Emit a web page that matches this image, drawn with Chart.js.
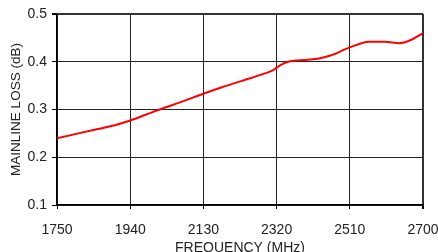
<!DOCTYPE html>
<html>
<head>
<meta charset="utf-8">
<script src="https://cdn.jsdelivr.net/npm/chart.js@4"></script>
<style>
  html, body { margin: 0; padding: 0; background: #fff; }
  #wrap { width: 438px; height: 252px; }
</style>
</head>
<body>
<div id="wrap"><canvas id="lossChart" width="438" height="252"></canvas></div>
<script>
// Mainline loss vs frequency
const freqMHz = [1750, 1800, 1850, 1900, 1940, 1980, 2020, 2080, 2130, 2180, 2230, 2280, 2310, 2330, 2350, 2400, 2430, 2460, 2510, 2560, 2600, 2640, 2670, 2700];
const lossDb  = [0.240, 0.249, 0.258, 0.267, 0.277, 0.289, 0.301, 0.318, 0.333, 0.347, 0.360, 0.373, 0.382, 0.393, 0.400, 0.404, 0.407, 0.413, 0.430, 0.442, 0.442, 0.439, 0.446, 0.460];

const xTicks = [1750, 1940, 2130, 2320, 2510, 2700];
const yTicks = [0.1, 0.2, 0.3, 0.4, 0.5];

const FONT = "'Liberation Sans', Arial, sans-serif";

const points = freqMHz.map((f, i) => ({ x: f, y: lossDb[i] }));

const ctx = document.getElementById("lossChart").getContext("2d");
new Chart(ctx, {
  type: 'line',
  data: {
    datasets: [{
      data: points,
      borderColor: '#ff0000',
      borderWidth: 2,
      pointRadius: 0,
      fill: false,
      cubicInterpolationMode: 'monotone'
    }]
  },
  options: {
    responsive: false,
    animation: false,
    layout: { padding: { left: 0, right: 15, top: 14, bottom: 0 } },
    plugins: { legend: { display: false }, tooltip: { enabled: false } },
    scales: {
      x: {
        type: 'linear',
        min: xTicks[0],
        max: xTicks[xTicks.length - 1],
        afterBuildTicks: (s) => { s.ticks = xTicks.map(v => ({ value: v })); },
        // fixed height; don't let the end labels squeeze the plot
        afterFit: (s) => { s.height = 47; s.paddingLeft = 0; s.paddingRight = 0; },
        ticks: {
          autoSkip: false,
          maxRotation: 0,
          padding: 13,
          color: '#222',
          font: { family: FONT, size: 14 },
          callback: (v) => String(v)
        },
        grid: {
          color: (c) => c.index === xTicks.length - 1 ? '#333' : '#222',
          lineWidth: (c) => c.index === xTicks.length - 1 ? 2 : 1,
          tickLength: 4,
          tickColor: '#000'
        },
        border: { color: '#000', width: 1.5 },
        title: {
          display: true,
          text: 'FREQUENCY (MHz)',
          color: '#222',
          font: { family: FONT, size: 14, lineHeight: 0.6 },
          padding: { top: 0, bottom: 0 }
        }
      },
      y: {
        min: yTicks[0],
        max: yTicks[yTicks.length - 1],
        afterBuildTicks: (s) => { s.ticks = yTicks.map(v => ({ value: v })); },
        afterFit: (s) => { s.width = 57; s.paddingTop = 0; s.paddingBottom = 0; },
        ticks: {
          padding: 5,
          color: '#222',
          font: { family: FONT, size: 14 },
          callback: (v) => Number(v).toFixed(1)
        },
        grid: {
          color: (c) => c.index === yTicks.length - 1 ? '#333' : '#222',
          lineWidth: (c) => c.index === yTicks.length - 1 ? 2 : 1,
          tickLength: 5,
          tickColor: '#000'
        },
        border: { color: '#000', width: 1.5 },
        title: {
          display: true,
          text: 'MAINLINE LOSS (dB)',
          color: '#222',
          font: { family: FONT, size: 13.5 },
          padding: { top: 8, bottom: 0 }
        }
      }
    }
  }
});
</script>
</body>
</html>
